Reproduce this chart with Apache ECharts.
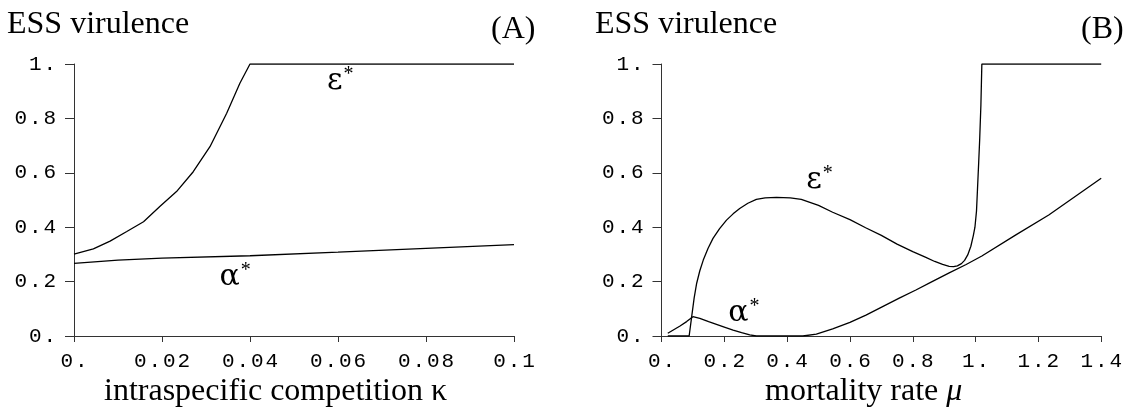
<!DOCTYPE html>
<html>
<head>
<meta charset="utf-8">
<script src="https://cdn.jsdelivr.net/npm/echarts@6/dist/echarts.min.js"></script>
<style>
  html, body { margin: 0; padding: 0; background: #fff; }
  #chart { width: 1125px; height: 411px; }
</style>
</head>
<body>
<div id="chart"></div>
<script>
// panel A: ESS virulence vs intraspecific competition kappa
const kappaEps = [0, 0.0044, 0.0082, 0.012, 0.0158, 0.0195, 0.0233, 0.0271, 0.0309, 0.0347, 0.0377, 0.04, 0.1]
const epsA = [0.301, 0.32, 0.349, 0.384, 0.42, 0.476, 0.531, 0.604, 0.696, 0.819, 0.929, 1.0, 1.0]
const kappaAlpha = [0, 0.01, 0.02, 0.04, 0.06, 0.08, 0.1]
const alphaA = [0.267, 0.279, 0.286, 0.295, 0.308, 0.322, 0.336]

// panel B: ESS virulence vs mortality rate mu
const muEps = [0.02, 0.088, 0.096, 0.104, 0.112, 0.122, 0.133, 0.148, 0.164, 0.185, 0.207, 0.228, 0.249, 0.275,
  0.302, 0.33, 0.366, 0.41, 0.445, 0.5, 0.545, 0.6, 0.65, 0.7, 0.75, 0.8, 0.84, 0.87, 0.895, 0.916, 0.93,
  0.942, 0.955, 0.965, 0.975, 0.985, 0.993, 0.998, 1.003, 1.006, 1.01, 1.013, 1.017, 1.02, 1.4]
const epsB = [0, 0, 0.07, 0.14, 0.194, 0.24, 0.279, 0.322, 0.359, 0.395, 0.426, 0.449, 0.469, 0.488,
  0.502, 0.508, 0.51, 0.508, 0.502, 0.48, 0.455, 0.428, 0.398, 0.37, 0.338, 0.31, 0.29, 0.274, 0.263, 0.256, 0.255,
  0.258, 0.266, 0.278, 0.298, 0.33, 0.37, 0.40, 0.46, 0.537, 0.64, 0.72, 0.85, 1.0, 1.0]
const muAlpha = [0.02, 0.059, 0.08, 0.1, 0.122, 0.15, 0.175, 0.2, 0.228, 0.255, 0.281, 0.302, 0.45, 0.493,
  0.545, 0.6, 0.651, 0.704, 0.757, 0.81, 0.86, 0.916, 0.97, 1.02, 1.127, 1.233, 1.4]
const alphaB = [0.01, 0.037, 0.053, 0.071, 0.065, 0.053, 0.043, 0.033, 0.022, 0.012, 0.004, 0, 0, 0.007,
  0.026, 0.05, 0.077, 0.108, 0.139, 0.169, 0.199, 0.232, 0.263, 0.294, 0.371, 0.445, 0.58]

// tick labels
const yTickLabels = ['0.', '0.2', '0.4', '0.6', '0.8', '1.']
const kappaTickLabels = ['0.', '0.02', '0.04', '0.06', '0.08', '0.1']
const muTickLabels = ['0.', '0.2', '0.4', '0.6', '0.8', '1.', '1.2', '1.4']

// curve label anchors (data units)
const labelA = { eps: [0.0605, 0.9375], alpha: [0.0366, 0.217] }
const labelB = { eps: [0.503, 0.574], alpha: [0.262, 0.085] }

const zip = (xs, ys) => xs.map((x, i) => [x, ys[i]])
const mono = s => s.split('').map(c => '{d|' + c + '}').join('')
const serif = "'Liberation Serif', 'Times New Roman', serif"

const axisLine = { lineStyle: { color: '#333', width: 1 } }
const tickRich = { d: { fontFamily: "'Liberation Mono', monospace", fontSize: 21, color: '#000', width: 14.5 } }

function xAxisOf(gridIndex, max, interval, labels) {
  return {
    type: 'value', gridIndex, min: 0, max, interval,
    axisLine: { show: true, onZero: false, ...axisLine },
    axisTick: { show: true, length: 6, lineStyle: { color: '#333' } },
    splitLine: { show: false },
    axisLabel: {
      margin: 15, showMinLabel: true, showMaxLabel: true,
      formatter: v => mono(labels[Math.round(v / interval)] || ''),
      rich: tickRich
    }
  }
}

function yAxisOf(gridIndex) {
  return {
    type: 'value', gridIndex, min: 0, max: 1, interval: 0.2,
    axisLine: { show: true, onZero: false, ...axisLine },
    axisTick: { show: true, length: 9, lineStyle: { color: '#333' } },
    splitLine: { show: false },
    axisLabel: {
      margin: 18,
      formatter: v => mono(yTickLabels[Math.round(v / 0.2)] || ''),
      rich: tickRich
    }
  }
}

function curve(xi, data) {
  return {
    type: 'line', xAxisIndex: xi, yAxisIndex: xi, data,
    symbol: 'none', silent: true,
    lineStyle: { color: '#000', width: 1.3 }
  }
}

function tag(xi, pos, glyph) {
  return {
    type: 'scatter', xAxisIndex: xi, yAxisIndex: xi, data: [pos],
    symbolSize: 1, itemStyle: { color: 'rgba(0,0,0,0)', opacity: 1 }, silent: true,
    label: {
      show: true, position: 'inside', color: '#000', textBorderWidth: 0,
      formatter: '{g|' + glyph + '}{s|*}',
      rich: {
        g: { fontFamily: "'DejaVu Serif', serif", fontSize: 30, color: '#000', textBorderWidth: 0 },
        s: { fontFamily: serif, fontSize: 20, color: '#000', textBorderWidth: 0, verticalAlign: 'top', padding: [0, 0, 12, 1] }
      }
    }
  }
}

const titleStyle = { fontFamily: serif, fontSize: 32, fontWeight: 'normal', color: '#000' }

const chart = echarts.init(document.getElementById('chart'), null, { renderer: 'canvas' })
chart.setOption({
  backgroundColor: '#fff',
  animation: false,
  title: [
    { text: 'ESS virulence', left: 2, top: 4, textStyle: titleStyle },
    { text: '(A)', left: 486, top: 9, textStyle: titleStyle },
    { text: 'ESS virulence', left: 590, top: 4, textStyle: titleStyle },
    { text: '(B)', left: 1076, top: 9, textStyle: titleStyle },
    { text: 'intraspecific competition κ', left: 99, top: 371, textStyle: titleStyle },
    { text: 'mortality rate {i|μ}', left: 760, top: 371,
      textStyle: { ...titleStyle, rich: { i: { fontFamily: serif, fontSize: 32, fontStyle: 'italic', color: '#000' } } } }
  ],
  grid: [
    { left: 74, right: 611, top: 64, bottom: 75 },
    { left: 661.5, right: 23, top: 64, bottom: 75 }
  ],
  xAxis: [
    xAxisOf(0, 0.1, 0.02, kappaTickLabels),
    xAxisOf(1, 1.4, 0.2, muTickLabels)
  ],
  yAxis: [yAxisOf(0), yAxisOf(1)],
  series: [
    curve(0, zip(kappaEps, epsA)),
    curve(0, zip(kappaAlpha, alphaA)),
    curve(1, zip(muEps, epsB)),
    curve(1, zip(muAlpha, alphaB)),
    tag(0, labelA.eps, 'ε'),
    tag(0, labelA.alpha, 'α'),
    tag(1, labelB.eps, 'ε'),
    tag(1, labelB.alpha, 'α')
  ]
})
</script>
</body>
</html>
